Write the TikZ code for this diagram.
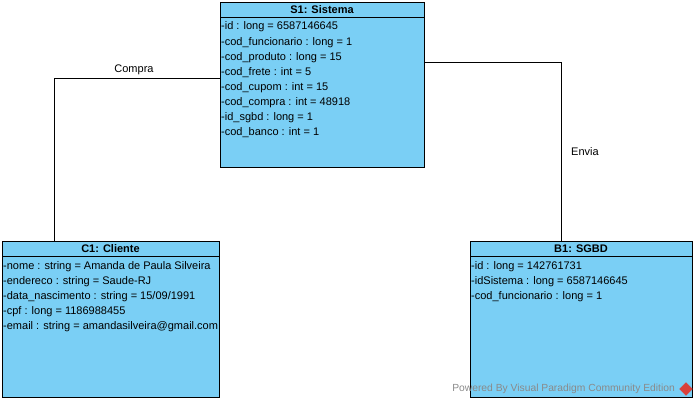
\documentclass[tikz,border=0pt]{standalone}
\usepackage{fontspec}
\setmainfont{Liberation Sans}
\definecolor{umlfill}{HTML}{7ACFF5}
\definecolor{wmgray}{HTML}{8A8A8A}
\definecolor{vpred}{HTML}{D9403A}
\begin{document}
\begin{tikzpicture}[x=1pt,y=-1pt,
  umlbox/.style={draw=black, fill=umlfill, line width=0.9pt, anchor=north west, inner sep=0pt},
  umltitle/.style={font=\fontsize{11}{13}\selectfont\bfseries, anchor=center, inner sep=0pt},
  attr/.style={font=\fontsize{11}{13}\selectfont, anchor=west, inner sep=0pt},
  conn/.style={draw=black, line width=0.8pt},
  lbl/.style={font=\fontsize{11}{13}\selectfont, inner sep=0pt}]
\useasboundingbox (0,0) rectangle (697,407);
% S1
\node[umlbox, minimum width=204pt, minimum height=165pt] (s1) at (220,2) {};
\draw[line width=0.9pt] (220,17) -- (424,17);
\node[umltitle] (s1t) at (322,9.5) {S1: Sistema};
\node[attr] (s1a1) at (221,27) {-id : long = 6587146645};
\node[attr] (s1a2) at (221,42.5) {-cod\_funcionario : long = 1};
\node[attr] (s1a3) at (221,57.5) {-cod\_produto : long = 15};
\node[attr] (s1a4) at (221,72.5) {-cod\_frete : int = 5};
\node[attr] (s1a5) at (221,87.5) {-cod\_cupom : int = 15};
\node[attr] (s1a6) at (221,102.5) {-cod\_compra : int = 48918};
\node[attr] (s1a7) at (221,117.5) {-id\_sgbd : long = 1};
\node[attr] (s1a8) at (221,132.5) {-cod\_banco : int = 1};
% C1
\node[umlbox, minimum width=217pt, minimum height=156pt] (c1) at (2,241) {};
\draw[line width=0.9pt] (2,256) -- (219,256);
\node[umltitle] (c1t) at (110.5,248.5) {C1: Cliente};
\node[attr] (c1a1) at (3,266.5) {-nome : string = Amanda de Paula Silveira};
\node[attr] (c1a2) at (3,281.5) {-endereco : string = Saude-RJ};
\node[attr] (c1a3) at (3,296.5) {-data\_nascimento : string = 15/09/1991};
\node[attr] (c1a4) at (3,311.5) {-cpf : long = 1186988455};
\node[attr] (c1a5) at (3,326.5) {-email : string = amandasilveira@gmail.com};
% B1
\node[umlbox, minimum width=222pt, minimum height=156pt] (b1) at (470,241) {};
\draw[line width=0.9pt] (470,256) -- (692,256);
\node[umltitle] (b1t) at (581,248.5) {B1: SGBD};
\node[attr] (b1a1) at (471,266.5) {-id : long = 142761731};
\node[attr] (b1a2) at (471,281.5) {-idSistema : long = 6587146645};
\node[attr] (b1a3) at (471,296.5) {-cod\_funcionario : long = 1};
% connectors
\coordinate (k1) at (54,78);
\draw[conn] (c1.north -| k1) -- (k1) -- (s1.west |- k1);
\node[lbl] (lcompra) at (134,70) {Compra};
\coordinate (k2) at (561,62);
\draw[conn] (s1.east |- k2) -- (k2) -- (b1.north -| k2);
\node[lbl] (lenvia) at (585,152) {Envia};
% watermark
\node[font=\fontsize{10.3}{12}\selectfont, text=wmgray, anchor=east, inner sep=0pt] (wm) at (675,389) {Powered By Visual Paradigm Community Edition};
\node[draw=vpred, fill=vpred, rotate=45, minimum size=9pt, inner sep=0pt] (logo) at (686,389) {};
\end{tikzpicture}
\end{document}
